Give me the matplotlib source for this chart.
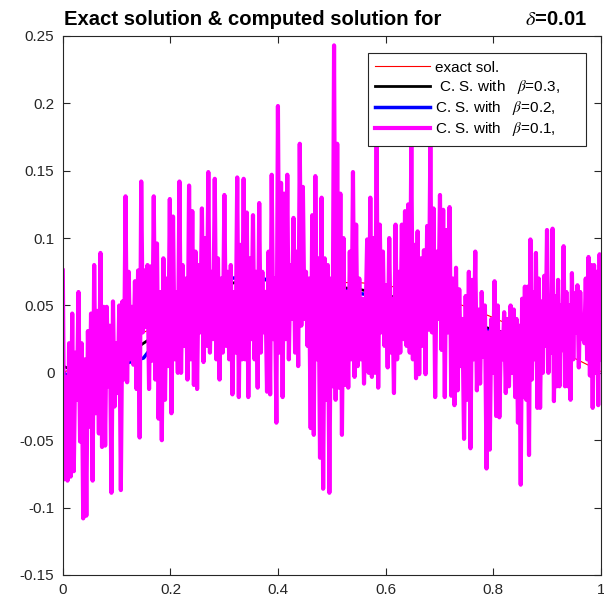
import numpy as np
import matplotlib
matplotlib.use("Agg")
import matplotlib.pyplot as plt
from matplotlib.ticker import FormatStrFormatter

plt.rcParams['font.family'] = ['Liberation Sans', 'DejaVu Sans']
plt.rcParams['mathtext.fontset'] = 'stix'

# exact solution, read at x = 0, 0.05, ..., 1
exact_y = [0.000, 0.010, 0.021, 0.030, 0.039, 0.047, 0.054, 0.059, 0.063, 0.066, 0.067,
           0.067, 0.065, 0.061, 0.056, 0.049, 0.041, 0.032, 0.022, 0.011, 0.001]

# computed solutions for beta = 0.3 and 0.2 (mostly hidden)
cs03_y = [0.005, -0.003, 0.008, 0.022, 0.035, 0.056, 0.065, 0.070, 0.068, 0.066, 0.064,
          0.062, 0.058, 0.052, 0.045, 0.038, 0.032, 0.027, 0.027, 0.029, 0.032]
cs02_y = [0.000, -0.010, 0.005, 0.011, 0.037, 0.052, 0.070, 0.071, 0.068, 0.066, 0.063,
          0.059, 0.056, 0.050, 0.043, 0.037, 0.030, 0.026, 0.027, 0.030, 0.033]

# computed solution for beta = 0.1 (noisy), read piece by piece left to right
cs01_edges = [0, 0.169, 0.336, 0.504, 0.671, 0.838, 1.0]
cs01_part1 = [
    0.076, -0.079, -0.003, -0.080, 0.022, -0.077, 0.044, -0.073, 0.015, -0.020,
    0.060, -0.051, 0.022, -0.108, 0.010, -0.106, 0.031, -0.040, 0.044, -0.080,
    0.080, -0.030, 0.046, -0.045, 0.089, -0.055, 0.049, -0.054, 0.049, -0.010,
    0.035, -0.089, 0.053, -0.025, 0.022, -0.015, 0.050, -0.087, 0.053, -0.005,
    0.131, -0.007, 0.075, 0.010, 0.049, 0.006, 0.068, -0.012, 0.076, -0.048,
    0.142, 0.030, 0.076, 0.034, 0.080, -0.012, 0.079, 0.009]
cs01_part2 = [
    0.131, -0.005, 0.096, -0.034, 0.060, -0.050, 0.085, -0.020, 0.070, 0.005,
    0.129, -0.030, 0.116, 0.010, 0.060, 0.000, 0.142, 0.000, 0.080, 0.020,
    0.070, -0.005, 0.139, 0.010, 0.120, -0.009, 0.090, -0.012, 0.080, 0.030,
    0.122, 0.008, 0.100, 0.020, 0.149, 0.015, 0.075, 0.025, 0.144, 0.010,
    0.085, -0.005, 0.070, 0.015, 0.132, 0.020, 0.075, 0.010, 0.080, -0.016,
    0.060, 0.015, 0.145, -0.018, 0.095, 0.010]
cs01_part3 = [
    0.144, 0.010, 0.119, -0.018, 0.085, 0.025, 0.117, 0.010, 0.075, -0.011,
    0.126, 0.015, 0.075, 0.030, 0.060, -0.014, 0.090, -0.016, 0.147, 0.025,
    0.070, -0.037, 0.198, 0.015, 0.141, -0.018, 0.133, 0.025, 0.147, 0.010,
    0.080, 0.040, 0.115, 0.015, 0.090, 0.005, 0.170, 0.035, 0.138, 0.040,
    0.075, 0.020, 0.070, -0.041, 0.117, -0.046, 0.146, 0.010, 0.085, -0.063,
    0.130, -0.086, 0.085, -0.020, 0.080, -0.089, 0.070, -0.010]
cs01_part4 = [
    0.243, -0.020, 0.170, -0.011, 0.133, -0.046, 0.100, -0.009, 0.060, -0.011,
    0.090, 0.010, 0.149, -0.003, 0.110, 0.005, 0.070, 0.010, 0.055, -0.008,
    0.040, 0.099, 0.000, 0.130, -0.003, 0.100, 0.000, 0.168, -0.011, 0.110,
    0.030, 0.090, 0.020, 0.065, 0.004, 0.100, 0.015, 0.055, -0.015, 0.110,
    0.010, 0.075, 0.015, 0.110, 0.025, 0.120, 0.020, 0.125, 0.015, 0.168,
    0.010, 0.095, -0.004, 0.105, -0.001, 0.085, 0.020]
cs01_part5 = [
    0.091, -0.001, 0.109, 0.032, 0.168, 0.030, 0.122, -0.018, 0.090, 0.040,
    0.132, 0.017, 0.121, -0.018, 0.106, 0.030, 0.123, -0.017, 0.070, -0.024,
    0.078, -0.013, 0.062, 0.005, 0.040, -0.049, 0.057, -0.020, 0.075, -0.056,
    0.069, 0.010, 0.090, -0.013, 0.047, -0.008, 0.060, 0.012, 0.050, -0.071,
    0.030, -0.057, 0.040, 0.000, 0.068, -0.032, 0.050, -0.033, 0.030, 0.010,
    0.045, -0.015, 0.040, -0.010, 0.050, 0.000]
cs01_part6 = [
    0.047, -0.018, 0.040, -0.037, 0.035, -0.083, 0.055, -0.018, 0.064, -0.020,
    0.064, -0.061, 0.099, -0.005, 0.060, 0.010, 0.089, -0.026, 0.070, -0.026,
    0.053, 0.000, 0.072, 0.020, 0.106, 0.000, 0.040, 0.015, 0.107, -0.021,
    0.057, -0.010, 0.069, -0.010, 0.050, 0.017, 0.094, -0.010, 0.060, -0.010,
    0.050, -0.020, 0.074, 0.010, 0.059, 0.030, 0.065, 0.004, 0.060, 0.025,
    0.042, 0.022, 0.070, 0.010, 0.086, -0.002, 0.080, -0.026, 0.080, 0.000,
    0.075, -0.024, 0.088, 0.010]
cs01_parts = [cs01_part1, cs01_part2, cs01_part3, cs01_part4, cs01_part5, cs01_part6]

xticks = [0, 0.2, 0.4, 0.6, 0.8, 1]
yticks = [-0.15, -0.1, -0.05, 0, 0.05, 0.1, 0.15, 0.2, 0.25]

# x positions for the noisy series: each piece spread over its own stretch
x_noisy = []
for i, part in enumerate(cs01_parts):
    last = i == len(cs01_parts) - 1
    x_noisy.append(np.linspace(cs01_edges[i], cs01_edges[i + 1], len(part), endpoint=last))
x_noisy = np.concatenate(x_noisy)
cs01_y = np.concatenate(cs01_parts)

fig = plt.figure(figsize=(6.04, 6.05), dpi=100)
ax = fig.add_axes([0.104, 0.0496, 0.891, 0.891])

ax.plot(np.linspace(0, 1, len(exact_y)), exact_y, color='red', lw=0.8, label='exact sol.')
ax.plot(np.linspace(0, 1, len(cs03_y)), cs03_y, color='black', lw=2,
        label=' C. S. with   $\\beta$=0.3,     ')
ax.plot(np.linspace(0, 1, len(cs02_y)), cs02_y, color='blue', lw=2.5,
        label='C. S. with   $\\beta$=0.2,     ')
ax.plot(x_noisy, cs01_y, color='magenta', lw=3,
        label='C. S. with   $\\beta$=0.1,     ')

ax.set_xlim(0, 1)
ax.set_ylim(-0.15, 0.25)
ax.set_xticks(xticks)
ax.set_yticks(yticks)
ax.xaxis.set_major_formatter(FormatStrFormatter('%g'))
ax.yaxis.set_major_formatter(FormatStrFormatter('%g'))
ax.tick_params(direction='in', top=True, right=True, length=5, width=0.8,
               labelsize=11, colors='#262626', pad=6)
for s in ax.spines.values():
    s.set_color('#262626')
    s.set_linewidth(0.8)

# title in two pieces like the original
ax.text(0.003, 1.03, 'Exact solution & computed solution for', transform=ax.transAxes,
        fontsize=14.6, fontweight='bold', ha='left', va='center')
ax.text(0.916, 1.03, '$\\delta$=0.01', transform=ax.transAxes,
        fontsize=14.6, fontweight='bold', ha='center', va='center')

leg = ax.legend(loc='upper right', bbox_to_anchor=(0.972, 0.968), borderaxespad=0,
                fancybox=False, framealpha=1, edgecolor='#262626', fontsize=11,
                handlelength=3.6, handletextpad=0.3, labelspacing=0.2, borderpad=0.5)
leg.get_frame().set_linewidth(0.8)

fig.savefig('out.png', dpi=100)
